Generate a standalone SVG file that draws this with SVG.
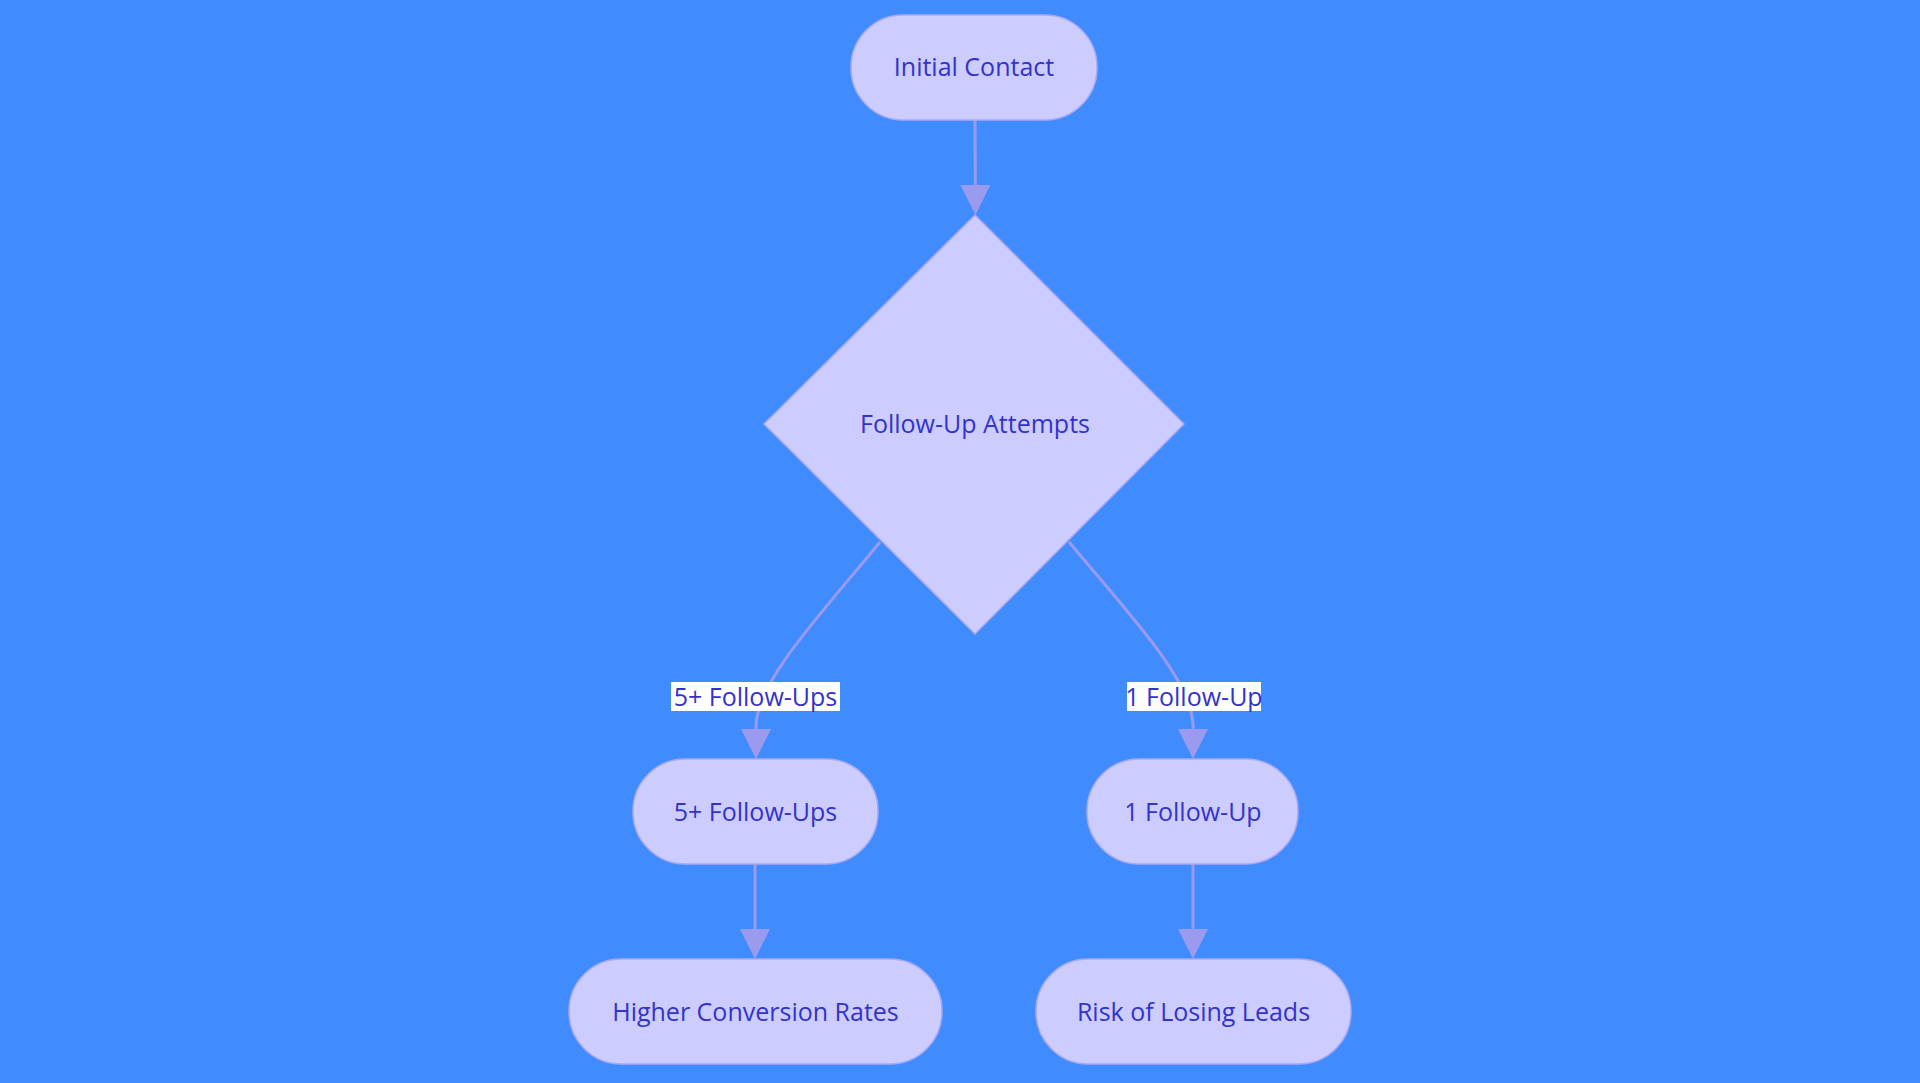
<svg xmlns="http://www.w3.org/2000/svg" width="1920" height="1083" viewBox="0 0 1920 1083">
<style>
.n{fill:#ccccff;stroke:#a9a9f0;stroke-width:1.5}
.t{font-family:"Open Sans","Liberation Sans",sans-serif;font-size:25px;fill:#3333cc;text-anchor:middle;dominant-baseline:central}
.e{fill:none;stroke:#9a9aef;stroke-width:3}
.lb{fill:#ffffff}
</style>
<defs><marker id="a" viewBox="0 0 10 10" refX="9" refY="5" markerWidth="8" markerHeight="8" markerUnits="userSpaceOnUse" orient="auto"><path d="M0,0L10,5L0,10z" fill="#9a9aef"/></marker>
<marker id="m" viewBox="0 0 10 10" refX="9" refY="5" markerWidth="10" markerHeight="10" orient="auto"><path d="M0,0L10,5L0,10z" fill="#9a9aef"/></marker></defs>
<rect width="1920" height="1083" fill="#408cff"/>
<g id="edges">
<path class="e" d="M975,120 L975.5,212" marker-end="url(#m)"/>
<path class="e" d="M880,542 C820,615 758,680 756,725 L756,756" marker-end="url(#m)"/>
<path class="e" d="M1069,542 C1130,615 1192,680 1193,725 L1193,756" marker-end="url(#m)"/>
<path class="e" d="M755,864 L755,956" marker-end="url(#m)"/>
<path class="e" d="M1193,864 L1193,956" marker-end="url(#m)"/>
</g>
<g id="l1"><rect class="lb" x="671" y="682" width="169" height="29"/><text class="t" x="755.5" y="696">5+ Follow-Ups</text></g>
<g id="l2"><rect class="lb" x="1127" y="682" width="134" height="29"/><text class="t" x="1194" y="696">1 Follow-Up</text></g>
<g id="n1"><rect class="n" x="851" y="15" width="246" height="105" rx="52"/><text class="t" x="974" y="66">Initial Contact</text></g>
<g id="n2"><path class="n" d="M975,215 L1184,424 L975,634 L764,424Z"/><text class="t" x="975" y="423">Follow-Up Attempts</text></g>
<g id="n3"><rect class="n" x="633" y="759" width="245" height="105" rx="52"/><text class="t" x="755.5" y="811">5+ Follow-Ups</text></g>
<g id="n4"><rect class="n" x="1087" y="759" width="211" height="105" rx="52"/><text class="t" x="1193" y="811">1 Follow-Up</text></g>
<g id="n5"><rect class="n" x="569" y="959" width="373" height="105" rx="52"/><text class="t" x="755.5" y="1011">Higher Conversion Rates</text></g>
<g id="n6"><rect class="n" x="1036" y="959" width="315" height="105" rx="52"/><text class="t" x="1193.5" y="1011">Risk of Losing Leads</text></g>
</svg>
